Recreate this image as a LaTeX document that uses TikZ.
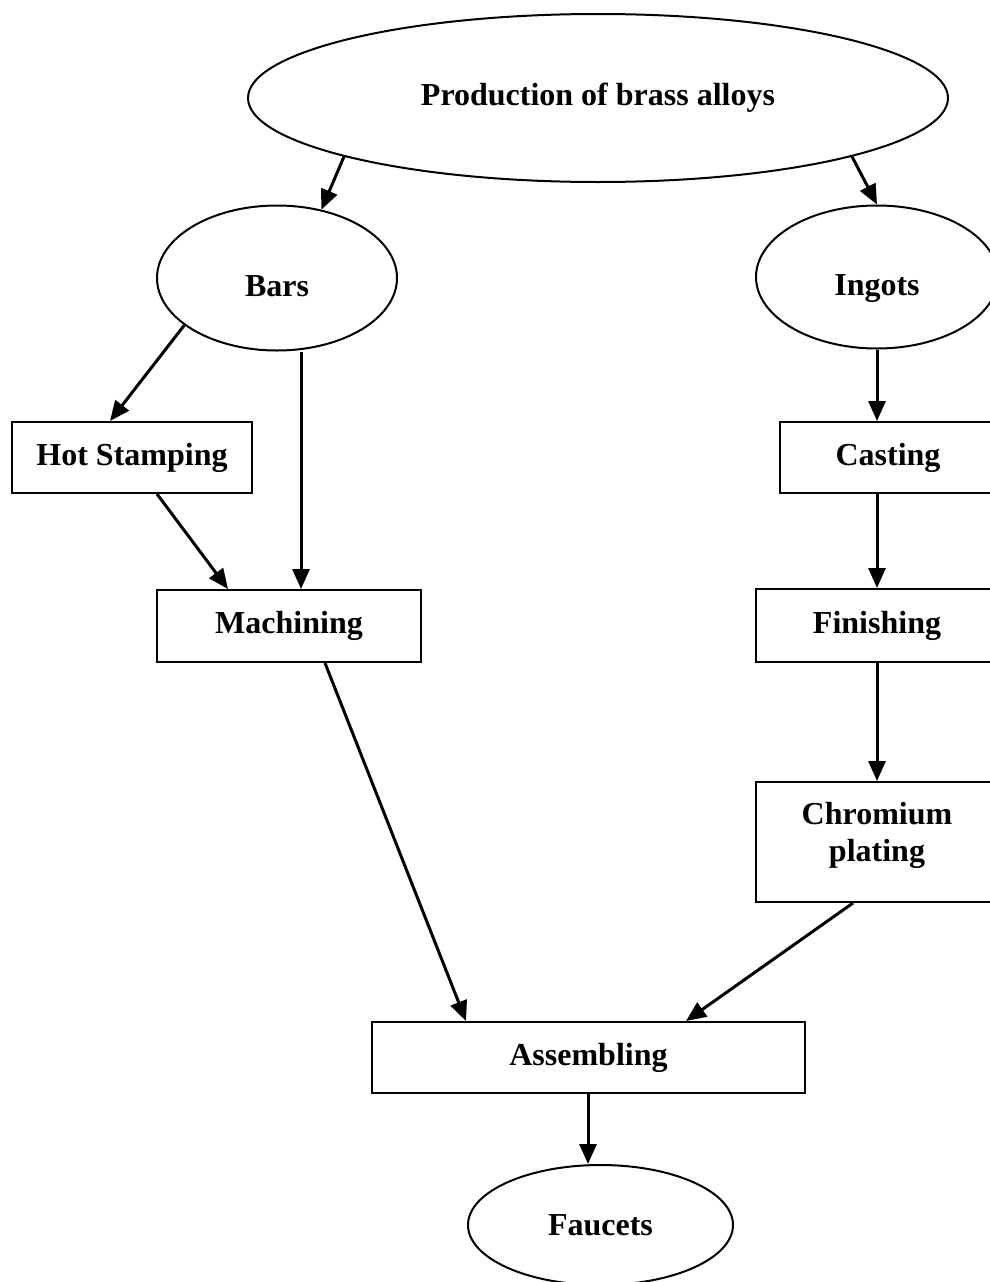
\documentclass[tikz,border=0pt]{standalone}
\usepackage{fontspec}
\setmainfont{Liberation Serif}
\usetikzlibrary{shapes.geometric, arrows.meta, positioning}

\begin{document}
\begin{tikzpicture}[
    x=1pt, y=-1pt,
    every node/.style={font=\fontsize{32}{37}\selectfont\bfseries, align=center,
                       inner sep=0pt},
    blob/.style={ellipse, draw=black, line width=2pt},
    lowblob/.style={blob, text height=40pt, text depth=3pt},
    stage/.style={rectangle, draw=black, line width=2pt},
    flow/.style={-{Triangle[length=20pt,width=17pt]}, line width=3pt},
]
\useasboundingbox (0,0) rectangle (989,1282);

% ======================================================
% Raw material and the two semi-products
% ======================================================
\node[blob, minimum width=700pt, minimum height=168pt] (brass) at (598,98)
     {Production of brass alloys};
\node[lowblob, minimum width=240pt, minimum height=145pt] (bars) at (277,278) {Bars};
\node[lowblob, minimum width=242pt, minimum height=143pt] (ingots) at (877,277) {Ingots};

% ======================================================
% Bar route (left) and ingot route (right)
% ======================================================
\node[stage, minimum width=240pt, minimum height=71pt] (hot) at (132,457.5) {Hot Stamping};
\node[stage, minimum width=264pt, minimum height=72pt] (mach) at (289,626) {Machining};

\node[stage, minimum width=216pt, minimum height=71pt] (cast) at (888,457.5) {Casting};
\node[stage, minimum width=242pt, minimum height=73pt] (fin) at (877,625.5) {Finishing};
\node[stage, minimum width=242pt, minimum height=120pt] (chrom) at (877,842)
     {Chromium\\plating\\[-16pt]};

% ======================================================
% Final steps
% ======================================================
\node[stage, minimum width=433pt, minimum height=71pt] (asm) at (588.5,1057.5) {Assembling};
\node[blob, minimum width=265pt, minimum height=120pt] (fauc) at (600.5,1225) {Faucets};

% connectors
\draw[flow] (brass.193) -- (bars.57);
\draw[flow] (brass.347) -- (ingots.north);

\draw[flow] (bars.207) -- ([xshift=-22pt]hot.north);
\draw[flow] ([xshift=24pt]bars.south) -- ([xshift=12pt]mach.north);
\draw[flow] ([xshift=25pt]hot.south) -- ([xshift=-61pt]mach.north);
\draw[flow] ([xshift=36pt]mach.south) -- ([xshift=-122.5pt]asm.north);

\draw[flow] (ingots.south) -- ([xshift=-11pt]cast.north);
\draw[flow] ([xshift=-11pt]cast.south) -- (fin.north);
\draw[flow] (fin.south) -- (chrom.north);
\draw[flow] ([xshift=-24pt]chrom.south) -- ([xshift=97.5pt]asm.north);

\draw[flow] ([xshift=-0.5pt]asm.south) -- ([xshift=-12.5pt]fauc.north);

\end{tikzpicture}
\end{document}
